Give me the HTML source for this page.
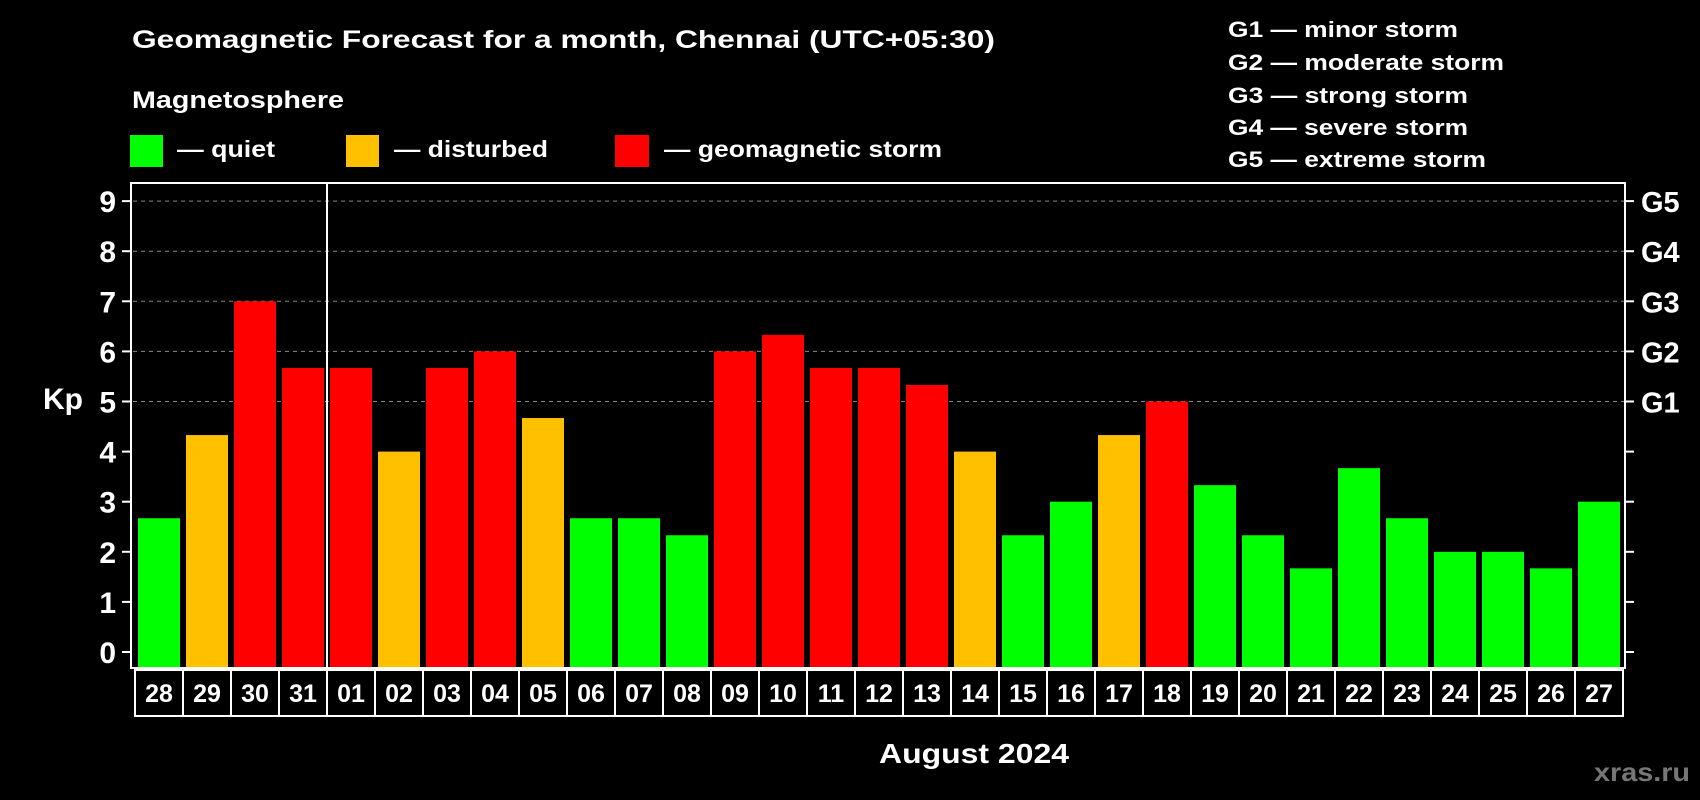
<!DOCTYPE html>
<html><head><meta charset="utf-8"><style>
html,body{margin:0;padding:0;background:#000;}
svg{display:block;}
text{font-family:"Liberation Sans",Arial,sans-serif;font-weight:bold;fill:#fff;}
</style></head><body>
<svg id="chart" width="1700" height="800" viewBox="0 0 1700 800">
<rect x="0" y="0" width="1700" height="800" fill="#000"/>
<text x="132" y="48" font-size="25" textLength="863" lengthAdjust="spacingAndGlyphs">Geomagnetic Forecast for a month, Chennai (UTC+05:30)</text>
<text x="132" y="108" font-size="24" textLength="212" lengthAdjust="spacingAndGlyphs">Magnetosphere</text>
<g>
<rect x="130" y="135" width="33" height="32" fill="#00ff00"/>
<text x="177" y="157" font-size="23" textLength="98" lengthAdjust="spacingAndGlyphs">— quiet</text></g>
<g>
<rect x="346" y="135" width="33" height="32" fill="#ffc000"/>
<text x="394" y="157" font-size="23" textLength="154" lengthAdjust="spacingAndGlyphs">— disturbed</text></g>
<g>
<rect x="615" y="135" width="34" height="32" fill="#ff0000"/>
<text x="664" y="157" font-size="23" textLength="278" lengthAdjust="spacingAndGlyphs">— geomagnetic storm</text></g>
<g font-size="22">
<text x="1228" y="37" textLength="230" lengthAdjust="spacingAndGlyphs">G1 — minor storm</text>
<text x="1228" y="70" textLength="276" lengthAdjust="spacingAndGlyphs">G2 — moderate storm</text>
<text x="1228" y="103" textLength="240" lengthAdjust="spacingAndGlyphs">G3 — strong storm</text>
<text x="1228" y="135" textLength="240" lengthAdjust="spacingAndGlyphs">G4 — severe storm</text>
<text x="1228" y="167" textLength="258" lengthAdjust="spacingAndGlyphs">G5 — extreme storm</text>
</g>
<text x="43" y="409" font-size="30">Kp</text>
<g id="grid"></g><g id="bars"></g><g id="axes"></g>
<text x="974" y="763" font-size="28" text-anchor="middle" textLength="190" lengthAdjust="spacingAndGlyphs">August 2024</text>
<text x="1690" y="781" font-size="26" text-anchor="end" style="fill:#777" textLength="96" lengthAdjust="spacingAndGlyphs">xras.ru</text>
</svg>
<script>
const days = ["28","29","30","31","01","02","03","04","05","06","07","08","09","10","11","12","13","14","15","16","17","18","19","20","21","22","23","24","25","26","27"];
const kpValues = [2.67,4.33,7,5.67,5.67,4,5.67,6,4.67,2.67,2.67,2.33,6,6.33,5.67,5.67,5.33,4,2.33,3,4.33,5,3.33,2.33,1.67,3.67,2.67,2,2,1.67,3];
const yTicks = [0,1,2,3,4,5,6,7,8,9];
const gLabels = ["","","","","","G1","G2","G3","G4","G5"];
const NS="http://www.w3.org/2000/svg";
const X0=135, SLOT=48, Y0=652, PER=50.1, TOP=183, BOT=668;
function xS(i){return X0+i*SLOT;}
function yS(v){return Y0-v*PER;}
function mk(tag,attrs,parent){const e=document.createElementNS(NS,tag);for(const k in attrs)e.setAttribute(k,attrs[k]);parent.appendChild(e);return e;}
const grid=document.getElementById('grid'),bars=document.getElementById('bars'),axes=document.getElementById('axes');
yTicks.forEach((t,i)=>{
  const y=yS(t);
  if(t>=5){const g=mk('line',{x1:133,x2:1624,y1:y,y2:y,stroke:'#888','stroke-width':1,'stroke-dasharray':'4 4'},grid);
  
  }
  const tl=mk('line',{x1:122,x2:131,y1:y,y2:y,stroke:'#fff','stroke-width':2},axes);
  
  
  const tr=mk('line',{x1:1625,x2:1634,y1:y,y2:y,stroke:'#fff','stroke-width':2},axes);
  
  
  const lt=mk('text',{x:116,y:y+11,'font-size':30,'text-anchor':'end'},axes);lt.textContent=t;
  
  
  if(gLabels[i]){const gt=mk('text',{x:1641,y:y+11,'font-size':29},axes);gt.textContent=gLabels[i];
  
  }
});
kpValues.forEach((v,i)=>{
  const c=v>=5?'#ff0000':(v>=4?'#ffc000':'#00ff00');
  const r=mk('rect',{x:xS(i)+3,y:yS(v),width:42,height:BOT-1-yS(v),fill:c},bars);
  
  
});
const fr=mk('rect',{x:131,y:TOP,width:1494,height:BOT-TOP,fill:'none',stroke:'#fff','stroke-width':2},axes);


const mdiv=mk('line',{x1:xS(4),x2:xS(4),y1:TOP,y2:BOT,stroke:'#fff','stroke-width':2},axes);


days.forEach((d,i)=>{
  const b=mk('rect',{x:xS(i),y:670,width:SLOT,height:46,fill:'#000',stroke:'#fff','stroke-width':2},axes);
  
  
  const t=mk('text',{x:xS(i)+SLOT/2,y:702,'font-size':25,'text-anchor':'middle'},axes);t.textContent=d;
  
  
});
</script>
</body></html>
